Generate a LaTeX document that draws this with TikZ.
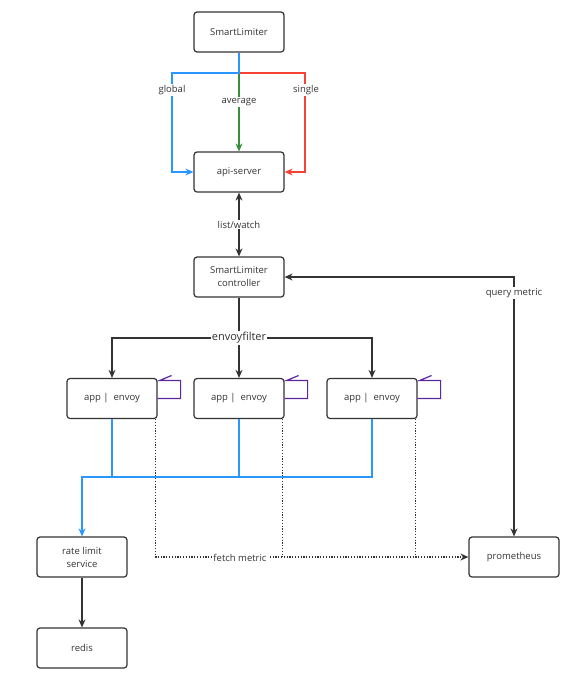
\documentclass[tikz,border=0pt]{standalone}
\usepackage{fontspec}
\setmainfont{Open Sans}
\usetikzlibrary{arrows.meta,calc}

\definecolor{linegray}{RGB}{51,51,51}
\definecolor{textgray}{RGB}{51,51,51}
\definecolor{globalblue}{RGB}{41,151,255}
\definecolor{avggreen}{RGB}{56,142,60}
\definecolor{singlered}{RGB}{244,67,54}
\definecolor{looppurple}{RGB}{92,38,160}

\tikzset{
    box/.style={draw=linegray, line width=1.2pt, rounded corners=3pt,
        minimum width=90pt, minimum height=40pt, align=center,
        text=textgray, font=\fontsize{9.5}{13}\selectfont},
    conn/.style={draw=linegray, line width=1.2pt},
    tip/.style={-{Stealth[length=8pt,width=7pt]}},
    metric/.style={line width=1.3pt, dash pattern=on 1.3pt off 1.5pt},
    lbl/.style={fill=white, inner sep=1pt, text=textgray,
        font=\fontsize{9.5}{11}\selectfont},
}

\begin{document}
\begin{tikzpicture}[x=1pt, y=-1pt]
    \useasboundingbox (0,0) rectangle (579,678);

    % boxes
    \node[box] (limiter) at (239,32) {SmartLimiter};
    \node[box] (api) at (239,172) {api-server};
    \node[box] (ctrl) at (239,277) {SmartLimiter\\controller};
    \node[box] (app1) at (112,398.5) {app |\ \ envoy};
    \node[box] (app2) at (239,398.5) {app |\ \ envoy};
    \node[box] (app3) at (372,398.5) {app |\ \ envoy};
    \node[box] (ratelimit) at (82,557) {rate limit\\service};
    \node[box] (redis) at (82,648) {redis};
    \node[box] (prom) at (514,557) {prometheus};

    \coordinate (ef) at (239,338);
    \coordinate (bus) at (82,477);

    % SmartLimiter -> api-server
    \draw[conn, tip, draw=avggreen] (limiter.south) -- (api.north);
    \draw[conn, tip, draw=singlered] (limiter.south) |- (305,73) |- (api.east);
    \draw[conn, tip, draw=globalblue] (limiter.south) |- (172,73) |- (api.west);
    \node[lbl] (global) at (172,90) {global};
    \node[lbl] (average) at (239,102) {average};
    \node[lbl] (single) at (306,90) {single};

    % api-server <-> controller
    \draw[conn, {Stealth[length=8pt,width=7pt]}-{Stealth[length=8pt,width=7pt]}]
        (api.south) -- node[lbl] {list/watch} (ctrl.north);

    % controller <-> prometheus
    \draw[conn, {Stealth[length=8pt,width=7pt]}-{Stealth[length=8pt,width=7pt]}]
        (ctrl.east) -| node[lbl, pos=0.531] {query metric} (prom.north);

    % envoyfilter
    \draw[conn] (ctrl.south) -- (ef);
    \foreach \i in {1,2,3} {
        \draw[conn, tip] (ef) -| (app\i.north);
    }
    \node[lbl, font=\fontsize{11}{13}\selectfont] (envoyfilter) at (ef) {envoyfilter};

    % apps -> rate limit service
    \foreach \i in {2,3} {
        \draw[conn, draw=globalblue] (app\i.south) |- (bus);
    }
    \draw[conn, tip, draw=globalblue] (app1.south) |- (bus) -- (ratelimit.north);
    \draw[conn, tip] (ratelimit.south) -- (redis.north);

    % apps -> prometheus
    \foreach \i in {1,2,3} {
        \coordinate (fm\i) at ($(app\i.south east)+(-2,0)$);
        \draw[line width=1.2pt, draw=looppurple]
            (app\i.east) -- ++(23,0) -- ++(0,-18) -- ++(-21,0) -- ++(12,-5);
    }
    \foreach \i in {2,3} {
        \draw[conn, metric] (fm\i) -- (fm\i |- prom.west);
    }
    \draw[conn, tip, metric] (fm1) |- (prom.west);
    \node[lbl] (fetch) at (240,558) {fetch metric};
\end{tikzpicture}
\end{document}
